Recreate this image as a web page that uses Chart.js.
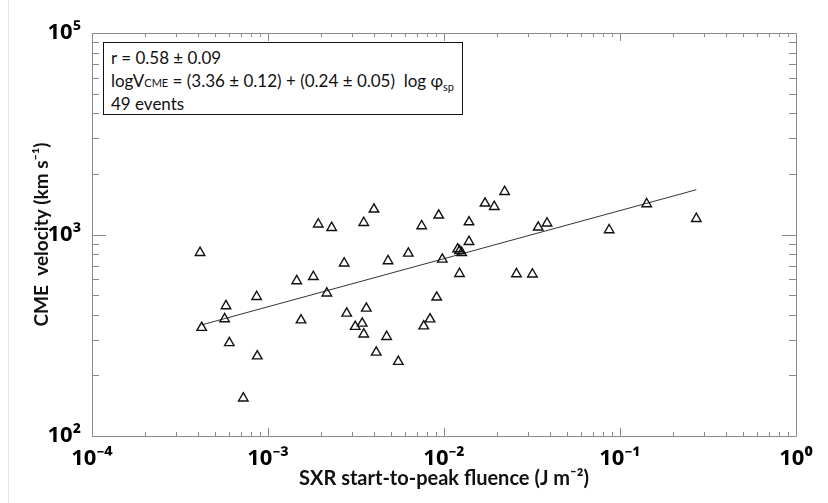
<!DOCTYPE html>
<html><head><meta charset="utf-8">
<script src="https://cdn.jsdelivr.net/npm/chart.js@4.4.1/dist/chart.umd.min.js"></script>
<style>
html,body{margin:0;padding:0;background:#fff;}
#wrap{position:relative;width:828px;height:503px;overflow:hidden;}
#edge{position:absolute;left:8px;top:0;width:1px;height:503px;background:#e2e2e2;}
#box{position:absolute;left:103px;top:42px;width:360px;height:73px;border:1.4px solid #111;background:#fff;box-sizing:border-box;font-family:Lato,'Open Sans',sans-serif;font-size:17px;color:#111;}
#box div{position:absolute;left:7px;white-space:pre;line-height:20px;}
.sm{font-size:11px;}
.sub{font-size:11px;position:relative;top:4px;}
</style></head>
<body><div id="wrap">
<div id="edge"></div>
<canvas id="c" width="828" height="503"></canvas>
<div id="box">
<div style="top:5px">r = 0.58 ± 0.09</div>
<div style="top:28px">logV<span class="sm">CME</span> = (3.36 ± 0.12) + (0.24 ± 0.05)  log φ<span class="sub">sp</span></div>
<div style="top:51px">49 events</div>
</div>
</div>
<script>
const fluence = [4.11e-4, 4.20e-4, 5.77e-4, 5.67e-4, 6.03e-4, 8.62e-4, 8.69e-4, 7.24e-4,
  1.456e-3, 1.81e-3, 1.54e-3, 1.93e-3, 2.30e-3, 2.16e-3, 2.71e-3, 2.80e-3, 3.13e-3, 3.43e-3,
  3.50e-3, 3.62e-3, 3.50e-3, 4.00e-3, 4.12e-3, 4.72e-3, 4.81e-3, 5.50e-3, 6.27e-3, 7.47e-3,
  7.67e-3, 8.33e-3, 9.09e-3, 9.33e-3, 9.78e-3, 1.196e-2, 1.26e-2, 1.225e-2, 1.387e-2, 1.387e-2,
  1.71e-2, 1.93e-2, 2.21e-2, 2.58e-2, 3.18e-2, 3.43e-2, 3.85e-2, 8.68e-2, 0.1418, 0.2714, 1.225e-2];
const velocity = [812, 345, 442, 381, 290, 491, 249, 154,
  588, 617, 376, 1124, 1081, 511, 720, 406, 349, 362,
  320, 430, 1144, 1334, 260, 311, 739, 234, 806, 1102,
  351, 380, 488, 1245, 753, 847, 812, 639, 921, 1153,
  1428, 1374, 1631, 637, 635, 1086, 1137, 1053, 1417, 1198, 830];
const fitFluence = [4.2e-4, 0.2714];
const fitVelocity = [356, 1668];
const xTickValues = [1e-4, 1e-3, 1e-2, 1e-1, 1];
const xTickLabels = ['10⁻⁴', '10⁻³', '10⁻²', '10⁻¹', '10⁰'];
const yTickValues = [100, 1000, 10000];
const yTickLabels = ['10²', '10³', '10⁵'];

const frameTicks = {
  id: 'frameTicks',
  afterDatasetsDraw(chart) {
    const {ctx, chartArea: a, scales: {x, y}} = chart;
    ctx.save();
    ctx.strokeStyle = '#8a8a8a';
    ctx.lineWidth = 1;
    ctx.beginPath();
    ctx.rect(Math.round(a.left) + 0.5, Math.round(a.top) + 0.5, Math.round(a.right - a.left), Math.round(a.bottom - a.top));
    ctx.stroke();
    ctx.beginPath();
    for (let d = -4; d < 0; d++) {
      for (let k = 1; k <= 9; k++) {
        const v = k * Math.pow(10, d);
        const px = Math.round(x.getPixelForValue(v)) + 0.5;
        const len = k === 1 ? 8 : 4;
        ctx.moveTo(px, a.bottom); ctx.lineTo(px, a.bottom - len);
        ctx.moveTo(px, a.top); ctx.lineTo(px, a.top + len);
      }
    }
    for (let d = 2; d < 4; d++) {
      for (let k = 1; k <= 9; k++) {
        const v = k * Math.pow(10, d);
        const py = Math.round(y.getPixelForValue(v)) + 0.5;
        const len = k === 1 ? 14 : 7;
        ctx.moveTo(a.left, py); ctx.lineTo(a.left + len, py);
        ctx.moveTo(a.right, py); ctx.lineTo(a.right - len, py);
      }
    }
    ctx.stroke();
    ctx.restore();
  }
};

new Chart(document.getElementById('c'), {
  data: {
    datasets: [
      {
        type: 'scatter',
        data: fluence.map((f, i) => ({x: f, y: velocity[i]})),
        pointStyle: 'triangle',
        pointRadius: 5.5,
        borderColor: '#111',
        borderWidth: 1.4,
        backgroundColor: 'rgba(0,0,0,0)',
        order: 1
      },
      {
        type: 'line',
        data: fitFluence.map((f, i) => ({x: f, y: fitVelocity[i]})),
        borderColor: '#333',
        borderWidth: 1,
        pointRadius: 0,
        fill: false,
        order: 2
      }
    ]
  },
  options: {
    responsive: false,
    animation: false,
    layout: {padding: {top: 33, right: 32, left: 0, bottom: 0}},
    plugins: {legend: {display: false}, tooltip: {enabled: false}},
    scales: {
      x: {
        type: 'logarithmic',
        position: 'bottom',
        min: 1e-4, max: 1,
        afterBuildTicks(s) { s.ticks = xTickValues.map(v => ({value: v, major: true})); },
        afterFit(s) { s.height = 67; },
        grid: {display: false, drawTicks: false},
        border: {display: false},
        ticks: {
          callback: (v, i) => xTickLabels[i],
          font: {family: 'Noto Sans', weight: 'bold', size: 22},
          color: '#000',
          padding: 10,
          maxRotation: 0,
          autoSkip: false
        },
        title: {
          display: true,
          text: 'SXR start-to-peak fluence (J m⁻²)',
          font: {family: 'Lato', weight: 'bold', size: 20},
          color: '#111',
          padding: {top: 0, bottom: 12}
        }
      },
      y: {
        type: 'logarithmic',
        position: 'left',
        min: 100, max: 10000,
        afterBuildTicks(s) { s.ticks = yTickValues.map(v => ({value: v, major: true})); },
        afterFit(s) { s.width = 92; },
        grid: {display: false, drawTicks: false},
        border: {display: false},
        ticks: {
          callback: (v, i) => yTickLabels[i],
          font: {family: 'Noto Sans', weight: 'bold', size: 22},
          color: '#000',
          padding: 11,
          autoSkip: false
        },
        title: {
          display: true,
          text: 'CME  velocity (km s⁻¹)',
          font: {family: 'Lato', weight: 'bold', size: 19},
          color: '#111',
          padding: {top: 30, bottom: 0}
        }
      }
    }
  },
  plugins: [frameTicks]
});
</script>
</body></html>
